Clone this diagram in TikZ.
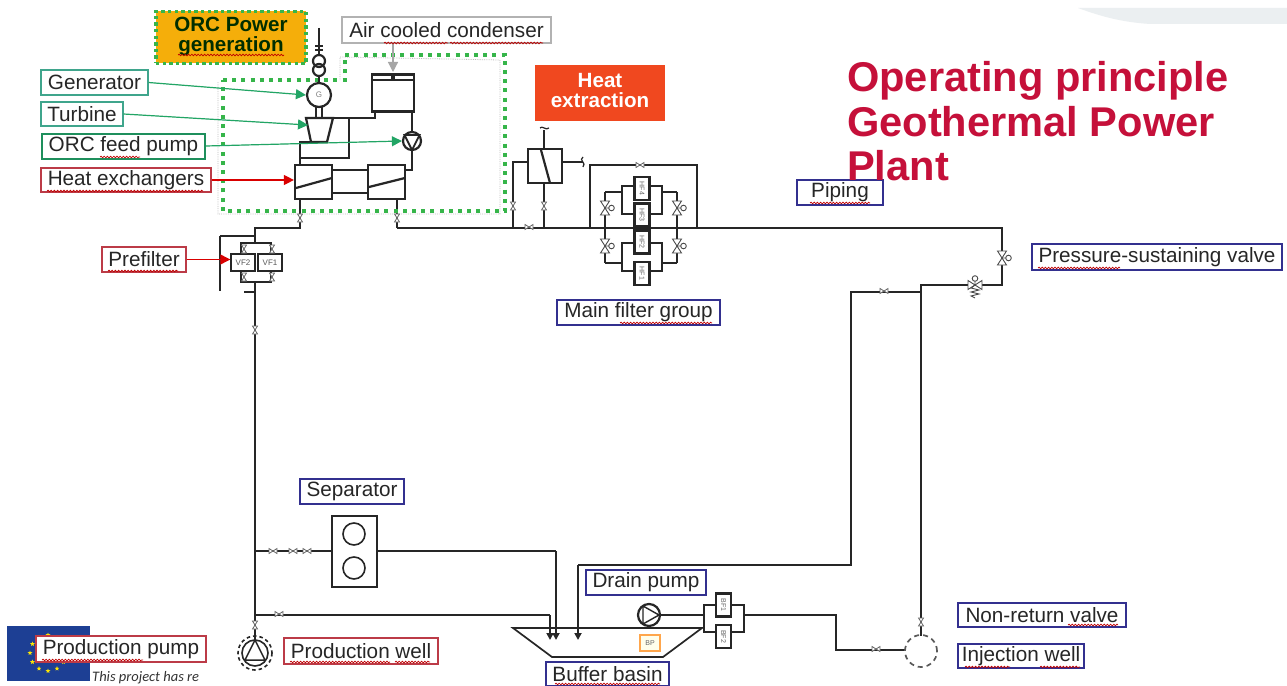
\documentclass[tikz,border=0pt]{standalone}
\usepackage{fontspec}
\setmainfont{Liberation Sans}
\newfontfamily\carl{Carlito}
\usetikzlibrary{arrows.meta,shapes.geometric,decorations.pathmorphing,calc}
\definecolor{pipec}{HTML}{262626}
\definecolor{tealc}{HTML}{3FA58C}
\definecolor{feedc}{HTML}{1E8F5C}
\definecolor{arrg}{HTML}{22A565}
\definecolor{redc}{HTML}{BC3B47}
\definecolor{bluec}{HTML}{33308F}
\definecolor{dotg}{HTML}{36B54A}
\definecolor{orcy}{HTML}{F5AE0A}
\definecolor{heatc}{HTML}{F0481F}
\definecolor{titlec}{HTML}{C5103A}
\definecolor{euflag}{HTML}{1D3F94}
\definecolor{swoosh}{HTML}{EBEFF1}
\tikzset{
  lab/.style={draw,fill=white,line width=1.1pt,inner sep=0pt,font=\fontsize{20.7}{22}\selectfont,text=black!85},
  pipe/.style={draw=pipec,line width=2.2pt},
  equip/.style={draw=pipec,line width=2.2pt,fill=white,inner sep=0pt},
  filt/.style={equip,minimum width=15pt,minimum height=23pt,font=\fontsize{7}{7}\selectfont,text=black!60},
  arr/.style={line width=1.2pt,-{Triangle[length=10pt,width=10pt]}},
  squig/.style={draw=red!75!black,line width=.7pt,decorate,decoration={snake,amplitude=.8pt,segment length=3.2pt}},
  tinyv/.style={draw=black!60,line width=.8pt},
  eustar/.style={star,star points=5,star point ratio=2.4,fill=yellow!90!orange,inner sep=0pt,minimum size=5pt}
}
\newcommand{\lab}[7]{\node[lab,draw=#6,minimum width={(#4-#2)*1pt},minimum height={(#5-#3)*1pt}] (#1) at ({(#2+#4)/2},{(#3+#5)/2}) {\raisebox{-1pt}{#7}};}
\newcommand{\sq}[3]{\draw[squig] (#1,#3) -- (#2,#3);}
% small inline valve: #1 x, #2 y, #3 rotation
\newcommand{\smv}[3]{\begin{scope}[shift={(#1,#2)},rotate=#3]
  \draw[tinyv,fill=white] (-4,-2.5) -- (4,2.5) -- (4,-2.5) -- (-4,2.5) -- cycle;
  \end{scope}}
% larger valve with handle circle, vertical flow
\newcommand{\bigv}[2]{\begin{scope}[shift={(#1,#2)}]
  \draw[draw=black!70,line width=.9pt,fill=white] (-4.5,-7) -- (4.5,-7) -- (-4.5,7) -- (4.5,7) -- cycle;
  \draw[draw=black!70,line width=.9pt] (0,0) -- (4,0) (6.5,0) circle (2.8);
  \end{scope}}
\begin{document}
\begin{tikzpicture}[x=1pt,y=-1pt]
\useasboundingbox (0,0) rectangle (1287,685);
\fill[white] (0,0) rectangle (1287,685);
% swoosh
\fill[swoosh] (1078,8) -- (1287,8) -- (1287,24) -- (1150,24) .. controls (1120,22) and (1100,16) .. (1078,8) -- cycle;

% EU flag
\fill[euflag] (7,626) rectangle (90,681);
\foreach \a in {0,30,...,330} \node[eustar] (st\a) at ({48+18*cos(\a)},{653+18*sin(\a)}) {};
\node[font=\carl\itshape\fontsize{14.5}{15}\selectfont,text=black!80,anchor=base west,inner sep=0pt] (proj) at (92,681) {This project has re};
\fill[white] (203,670) rectangle (215,685);

% named junctions
\foreach \n/\x/\y in {
 jA/300/228,jB/397/228,jC/255/228,jD/220/236,jE/220/291,jF/255/236,
 jG/513/228,jH/544/228,jI/590/228,jJ/697/228,jK/1002/228,jL/1002/285,
 jM/921/285,jN/921/292,jO/851/292,jP/851/565,jQ/578/565,jR/578/640,
 jS/556/551,jT/556/640,jU/255/615,jV/550/615,jW/550/640,jX/836/615,jY/836/650,
 jZ/605/228,ka/677/228,kb/605/192,kc/605/263,kd/677/192,ke/677/263,
 kf/590/165,kg/697/165,kh/513/162,ki/583/162,kj/544/130,
 kk/349/118,kl/349/158,km/300/158,kn/300/142,kp/412/170,
 kq/319/28,kr/622/192,ks/662/192,kt/622/263,ku/662/263,kv/255/283,kw/255/243}
 {\coordinate (\n) at (\x,\y);}
\coordinate (ko) at (375,118);

% main pipes
\draw[pipe] (jB) -- (jK) -- (jL) -- (jM) -- (jN) -- (jO) -- (jP) -- (jQ);
\draw[pipe] (jM) -- (921,636);
\draw[pipe] (378,551) -- (jS);
\draw[pipe] (jU) -- (jV);
\draw[pipe] (300,199) -- (jA) -- (jC) -- (kw);
\draw[pipe] (jD) -- (jF);
\draw[pipe] (jD) -- (jE);
\draw[pipe] (397,199) -- (jB);
\draw[pipe] (244,292) -- (255,292);
\draw[pipe] (kv) -- (255,640);
\draw[pipe] (255,551) -- (332,551);

% ORC dotted border
\draw[black!25,line width=.8pt,densely dotted] (218,82) -- (218,214) -- (500,214) -- (500,60) -- (340,57) -- (340,80);
\draw[dotg,line width=3.6pt,dash pattern=on 4pt off 5.2pt] (223,80) -- (345,80) -- (345,55) -- (505,55) -- (505,211) -- (223,211) -- cycle;

% ORC equipment
\draw[pipe] (kq) -- (319,56);
\draw[pipe] (315,46) -- (323,46) (315,50) -- (323,50);
\node[equip,circle,minimum size=12pt] (tra) at (319,61) {};
\node[equip,circle,minimum size=12pt,fill=none] (trb) at (319,70) {};
\draw[pipe] (trb) -- (319,84);
\draw[pipe,line width=1.6pt] (316,105) -- (316,118) (322,105) -- (322,118);
\node[equip,circle,minimum size=24pt,font=\fontsize{8}{8}\selectfont,text=black!50] (gen) at (319,95) {G};
\draw[pipe] (kk) -- (kl) -- (km) -- (kn) -- (327,142);
\draw[pipe] (333,118) -- (kk) -- (ko) -- (375,112);
\draw[equip] (306,118) -- (333,118) -- (327,142) -- (311,142) -- cycle;
\coordinate (turb) at (308,125);
\node[equip,minimum width=42pt,minimum height=37pt] (cond) at (393,93) {};
\draw[pipe,line width=1.4pt] (372,80) -- (414,80);
\fill[pipec] (391,75) rectangle (395,81);
\coordinate (condtop) at (393,72);
\draw[pipe] (412,112) -- (kp) -- (405,170);
\node[equip,circle,minimum size=18pt] (pump) at (412,141) {};
\draw[line width=1.8pt,pipec] (404.5,135) -- (419.5,135) -- (412,150) -- cycle;
\draw[pipe] (km) -- (300,165);
\node[equip,minimum width=37pt,minimum height=34pt] (hxa) at (313.5,182) {};
\node[equip,minimum width=37pt,minimum height=34pt] (hxb) at (386.5,182) {};
\draw[pipe] (296,188) -- (332,178) (369,187) -- (405,178);
\draw[pipe] (332,170) -- (368,170) (332,193) -- (368,193);
\smv{300}{218}{90}\smv{397}{218}{90}

% prefilter
\draw[pipe,line width=1.6pt] (241,254) -- (241,243) -- (271,243) -- (271,254);
\draw[pipe,line width=1.6pt] (241,271) -- (241,282) -- (271,282) -- (271,271);
\node[equip,line width=1.4pt,minimum width=24pt,minimum height=17pt,font=\fontsize{8}{8}\selectfont,text=black!65] (vfb) at (243,262.5) {VF2};
\node[equip,line width=1.4pt,minimum width=24pt,minimum height=17pt,font=\fontsize{8}{8}\selectfont,text=black!65] (vfa) at (270,262.5) {VF1};
\smv{244}{249}{90}\smv{272}{249}{90}\smv{244}{277}{90}\smv{272}{277}{90}
\smv{255}{330}{90}

% heat extraction exchanger
\node[equip,minimum width=34pt,minimum height=34pt] (hxc) at (545,166) {};
\draw[pipe] (541,150) -- (550,183);
\draw[pipe] (kj) -- (hxc.north -| kj);
\draw[pipe] (hxc.west |- kh) -- (kh) -- (jG);
\draw[pipe] (hxc.south -| kj) -- (jH);
\draw[pipe] (hxc.east |- ki) -- (ki);
\draw[line width=1.2pt,pipec] (583,157) .. controls (578,160) and (587,163) .. (583,167);
\draw[line width=1.2pt,pipec] (540,128) .. controls (542,125) and (546,131) .. (549,128);
\smv{513}{206}{90}\smv{544}{206}{90}\smv{529}{227}{0}

% main filter group
\draw[pipe] (jI) -- (kf) -- (kg) -- (jJ);
\draw[pipe] (kb) -- (kc) (kd) -- (ke);
\draw[pipe] (kb) -- (kr) (kc) -- (kt) (kd) -- (ks) (ke) -- (ku);
\draw[pipe] (622,186) -- (662,186) -- (662,214) -- (622,214) -- cycle;
\draw[pipe] (622,243) -- (662,243) -- (662,271) -- (622,271) -- cycle;
\node[filt] (hf4) at (642,188.5) {\rotatebox{-90}{HF4}};
\node[filt] (hf3) at (642,215) {\rotatebox{-90}{HF3}};
\node[filt] (hf2) at (642,242) {\rotatebox{-90}{HF2}};
\node[filt] (hf1) at (642,273.5) {\rotatebox{-90}{HF1}};
\draw[pipe] (jI) -- (jZ) (ka) -- (jJ);
\bigv{605}{208}\bigv{605}{246}\bigv{677}{208}\bigv{677}{246}
\smv{640}{165}{0}

% right-hand valves
\bigv{1002}{258}
\begin{scope}[shift={(975,285)}]
  \draw[draw=black!70,line width=.9pt,fill=white] (-7,-4.5) -- (-7,4.5) -- (7,-4.5) -- (7,4.5) -- cycle;
  \draw[draw=black!70,line width=.9pt] (0,0) -- (0,-4) (0,-6.5) circle (2.8);
  \draw[draw=black!70,line width=.9pt] (0,0) -- (-4,3) -- (4,5) -- (-4,7) -- (4,9) -- (-4,11) -- (0,13);
\end{scope}
\smv{884}{291}{0}

% separator
\node[equip,minimum width=45pt,minimum height=71pt] (sep) at (354.5,551.5) {};
\node[draw=pipec,line width=1.6pt,circle,minimum size=22pt,inner sep=0pt] (sepa) at (354,534) {};
\node[draw=pipec,line width=1.6pt,circle,minimum size=22pt,inner sep=0pt] (sepb) at (354,568) {};
\smv{273}{551}{0}\smv{293}{551}{0}\smv{307}{551}{0}
\smv{279}{614}{0}\smv{255}{625}{90}

% production pump symbol
\node[equip,circle,minimum size=26pt,line width=1.6pt] (ppump) at (255,653) {};
\draw[pipec,line width=1.5pt] (255,640) -- (245,660) -- (265,660) -- cycle;
\draw[pipec,line width=1.6pt,dash pattern=on 3.5pt off 3pt] (255,653) circle (17);

% buffer basin
\draw[pipe,line width=1.7pt] (513,628) -- (702,628) -- (663,657) -- (552,657) -- cycle;
\draw[pipe,-{Triangle[length=7pt,width=7pt]}] (jS) -- (jT);
\draw[pipe,-{Triangle[length=7pt,width=7pt]}] (jV) -- (jW);
\draw[pipe,-{Triangle[length=7pt,width=7pt]}] (jQ) -- (jR);
\node[draw=orange!70,fill=yellow!8,line width=1.4pt,minimum width=20pt,minimum height=16pt,inner sep=0pt,font=\fontsize{7}{7}\selectfont,text=black!60] (bp) at (650,643) {BP};
\node[equip,circle,minimum size=22pt] (dpump) at (649,615) {};
\draw[pipec,line width=1.4pt] (643,606) -- (659,615) -- (643,624) -- cycle;
\draw[pipe] (dpump) -- (704,615);
\draw[pipe] (704,605) -- (744,605) -- (744,632) -- (704,632) -- cycle;
\node[filt] (bfa) at (723.5,605) {\rotatebox{-90}{BF1}};
\node[filt] (bfb) at (723.5,636.5) {\rotatebox{-90}{BF2}};
\draw[pipe] (744,615) -- (jX) -- (jY) -- (905,650);
\smv{876}{649}{0}

% injection well
\node[circle,draw=black!65,line width=1.7pt,dash pattern=on 5pt off 4pt,minimum size=32pt,inner sep=0pt] (well) at (921,651) {};
\smv{921}{622}{90}

% orange and red boxes
\node[fill=orcy,draw=dotg,line width=3.4pt,dash pattern=on 3.4pt off 3.2pt,minimum width=150pt,minimum height=52pt,inner sep=0pt,align=center,
  font=\bfseries\fontsize{20.6}{21}\selectfont,text=black!70!green!60!black] (orc) at (231,37.5) {\raisebox{2pt}{\begin{tabular}{@{}c@{}}ORC Power\\[-1pt]generation\end{tabular}}};
\node[fill=heatc,minimum width=130pt,minimum height=56pt,inner sep=0pt,align=center,text=white,font=\bfseries\fontsize{20.6}{22}\selectfont] (heat) at (600,93) {\raisebox{3pt}{\begin{tabular}{@{}c@{}}Heat\\[-2pt]extraction\end{tabular}}};

% labels
\lab{lgen}{41}{70}{148}{95}{tealc}{Generator}
\lab{ltur}{41}{102}{123}{126}{tealc}{Turbine}
\node[lab,draw=feedc,line width=2pt,minimum width=163pt,minimum height=25pt] (lfeed) at (123.5,146) {\raisebox{-1pt}{ORC feed pump}};
\lab{lhx}{41}{168}{211}{192}{redc}{Heat exchangers}
\lab{lpre}{102}{247}{186}{272}{redc}{Prefilter}
\node[lab,draw=black!30,line width=1.5pt,minimum width=209pt,minimum height=26pt] (lair) at (446.5,30) {\raisebox{-1pt}{Air cooled condenser}};
\lab{lpipe}{797}{180}{883}{205}{bluec}{Piping}
\lab{lpsv}{1032}{244}{1282}{270}{bluec}{Pressure-sustaining valve}
\lab{lmain}{557}{300}{720}{325}{bluec}{Main filter group}
\lab{lsep}{300}{479}{404}{504}{bluec}{Separator}
\lab{ldrain}{586}{570}{706}{595}{bluec}{Drain pump}
\lab{lnrv}{958}{603}{1126}{627}{bluec}{Non-return valve}
\lab{linj}{958}{644}{1084}{668}{bluec}{Injection well}
\lab{lbuf}{546}{662}{669}{686}{bluec}{Buffer basin}
\lab{lpw}{284}{638}{438}{664}{redc}{Production well}
\lab{lpp}{36}{636}{206}{662}{redc}{Production pump}

% label arrows
\draw[arr,draw=arrg,fill=arrg] (lgen.east) -- (gen.west);
\draw[arr,draw=arrg,fill=arrg] (ltur.east) -- (turb);
\draw[arr,draw=arrg,fill=arrg] (lfeed.east) -- (pump.west);
\draw[arr,draw=red!85!black,fill=red!85!black] (lhx.east) -- (hxa.west |- lhx.east);
\draw[arr,draw=red!85!black,fill=red!85!black] (lpre.east) -- (vfb.west |- lpre.east);
\draw[arr,draw=black!35,fill=black!35] (lair.south -| condtop) -- (condtop);

% spell-check squiggles
\sq{384}{448}{43}\sq{450}{543}{43}
\sq{178}{284}{55}
\sq{100}{140}{157}
\sq{47}{203}{191}
\sq{108}{178}{271}
\sq{810}{870}{203}
\sq{1038}{1120}{268}
\sq{620}{712}{323}
\sq{965}{1010}{667}\sq{1040}{1080}{667}
\sq{1068}{1118}{625}
\sq{555}{660}{684}
\sq{290}{390}{662}\sq{395}{430}{662}
\sq{42}{143}{660}

% title
\node[anchor=base west,inner sep=0pt,text=titlec,font=\bfseries\fontsize{41.6}{45}\selectfont] (t1) at (847,91) {Operating principle};
\node[anchor=base west,inner sep=0pt,text=titlec,font=\bfseries\fontsize{41.6}{45}\selectfont] (t2) at (847,136) {Geothermal Power};
\node[anchor=base west,inner sep=0pt,text=titlec,font=\bfseries\fontsize{41.6}{45}\selectfont] (t3) at (847,180.5) {Plant};
\end{tikzpicture}
\end{document}
